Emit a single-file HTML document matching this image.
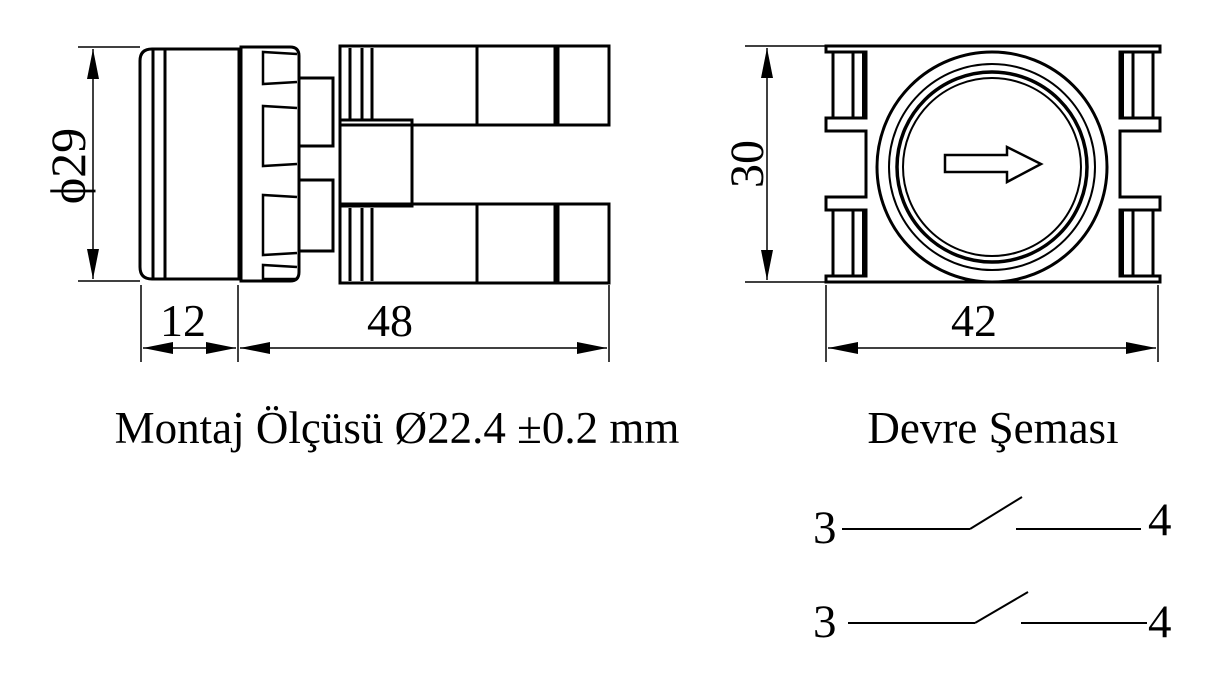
<!DOCTYPE html>
<html><head><meta charset="utf-8"><style>
html,body{margin:0;padding:0;background:#fff;}
svg{display:block;}
text{font-family:"Liberation Serif",serif;fill:#000;}
</style></head><body>
<svg width="1217" height="682" viewBox="0 0 1217 682" xmlns="http://www.w3.org/2000/svg">
<defs>
<marker id="a" viewBox="0 0 20 8" refX="20" refY="4" markerWidth="30" markerHeight="12" markerUnits="userSpaceOnUse" orient="auto-start-reverse"><path d="M0,0 L20,4 L0,8 z" fill="#000"/></marker>
</defs>
<g fill="none" stroke="#000" stroke-width="3">
<path d="M152,49 L239,49 L239,279 L152,279 Q140,279 140,267 L140,61 Q140,49 152,49 z"/>
<line x1="153" y1="50" x2="153" y2="278"/>
<line x1="165" y1="50" x2="165" y2="278"/>
<path d="M241,47 L290,47 Q299,47 299,56 L299,272 Q299,281 290,281 L241,281 z"/>
<g stroke-width="2.5">
<path d="M297,54 L263,52 L263,84 L297,82"/>
<path d="M297,108 L263,106 L263,166 L297,164"/>
<path d="M297,197 L263,195 L263,255 L297,253"/>
<path d="M297,267 L263,265 L263,279 L297,279"/>
</g>
<rect x="299" y="78" width="34" height="68"/>
<rect x="299" y="180" width="34" height="71"/>
<rect x="340" y="46" width="269" height="79"/>
<rect x="340" y="204" width="269" height="79"/>
<rect x="340" y="120" width="72" height="86"/>
<line x1="350" y1="48" x2="350" y2="120"/><line x1="362" y1="48" x2="362" y2="120"/><line x1="372" y1="48" x2="372" y2="120"/>
<line x1="350" y1="208" x2="350" y2="281"/><line x1="362" y1="208" x2="362" y2="281"/><line x1="372" y1="208" x2="372" y2="281"/>
<line x1="477" y1="46" x2="477" y2="125"/><line x1="555" y1="46" x2="555" y2="125"/><line x1="558" y1="46" x2="558" y2="125"/>
<line x1="477" y1="204" x2="477" y2="283"/><line x1="555" y1="204" x2="555" y2="283"/><line x1="558" y1="204" x2="558" y2="283"/>
<path d="M826,46 L1160,46 L1160,52 L1120,52 L1120,118 L1160,118 L1160,131 L1120,131 L1120,197 L1160,197 L1160,210 L1120,210 L1120,276 L1160,276 L1160,282 L826,282 L826,276 L866,276 L866,210 L826,210 L826,197 L866,197 L866,131 L826,131 L826,118 L866,118 L866,52 L826,52 z"/>
<line x1="833" y1="52" x2="833" y2="118"/><line x1="853" y1="52" x2="853" y2="118"/>
<line x1="833" y1="210" x2="833" y2="276"/><line x1="853" y1="210" x2="853" y2="276"/>
<line x1="1153" y1="52" x2="1153" y2="118"/><line x1="1133" y1="52" x2="1133" y2="118"/>
<line x1="1153" y1="210" x2="1153" y2="276"/><line x1="1133" y1="210" x2="1133" y2="276"/>
<rect x="862" y="52" width="5" height="66" fill="#000" stroke="none"/>
<rect x="862" y="210" width="5" height="66" fill="#000" stroke="none"/>
<rect x="1119" y="52" width="5" height="66" fill="#000" stroke="none"/>
<rect x="1119" y="210" width="5" height="66" fill="#000" stroke="none"/>
<circle cx="992" cy="167" r="115" fill="#fff"/>
<circle cx="992" cy="167" r="103" stroke-width="2"/>
<circle cx="992" cy="167" r="95" stroke-width="3.5"/>
<circle cx="992" cy="167" r="89" stroke-width="2"/>
<path d="M945,155 L1007,155 L1007,147 L1041,164 L1007,182 L1007,172 L945,172 z" stroke-width="2.5"/>
<g stroke-width="1.5">
<line x1="78" y1="47" x2="140" y2="47"/><line x1="78" y1="281" x2="140" y2="281"/>
<line x1="93" y1="49" x2="93" y2="279" marker-start="url(#a)" marker-end="url(#a)"/>
<line x1="745" y1="46" x2="826" y2="46"/><line x1="745" y1="282" x2="826" y2="282"/>
<line x1="767" y1="48" x2="767" y2="280" marker-start="url(#a)" marker-end="url(#a)"/>
<line x1="141" y1="285" x2="141" y2="362"/><line x1="238" y1="285" x2="238" y2="362"/><line x1="609" y1="285" x2="609" y2="362"/>
<line x1="143" y1="348" x2="236" y2="348" marker-start="url(#a)" marker-end="url(#a)"/>
<line x1="240" y1="348" x2="607" y2="348" marker-start="url(#a)" marker-end="url(#a)"/>
<line x1="826" y1="285" x2="826" y2="362"/><line x1="1158" y1="285" x2="1158" y2="362"/>
<line x1="828" y1="348" x2="1156" y2="348" marker-start="url(#a)" marker-end="url(#a)"/>
</g>
<g stroke-width="2">
<line x1="842" y1="529" x2="970" y2="529"/><line x1="970" y1="529" x2="1022" y2="497"/><line x1="1016" y1="529" x2="1141" y2="529"/>
<line x1="848" y1="623" x2="975" y2="623"/><line x1="975" y1="623" x2="1028" y2="592"/><line x1="1021" y1="623" x2="1147" y2="623"/>
</g>
</g>
<text x="85" y="166" font-size="50" text-anchor="middle" transform="rotate(-90 85 166)">ϕ29</text>
<text x="763" y="164" font-size="48" text-anchor="middle" transform="rotate(-90 763 164)">30</text>
<text x="183" y="336" font-size="46" text-anchor="middle">12</text>
<text x="390" y="336" font-size="46" text-anchor="middle">48</text>
<text x="974" y="336" font-size="46" text-anchor="middle">42</text>
<text x="397" y="443" font-size="45" text-anchor="middle">Montaj Ölçüsü Ø22.4 ±0.2 mm</text>
<text x="993" y="443" font-size="45" text-anchor="middle">Devre Şeması</text>
<text x="813" y="543" font-size="47">3</text>
<text x="1148" y="535" font-size="47">4</text>
<text x="813" y="637" font-size="47">3</text>
<text x="1148" y="637" font-size="47">4</text>
</svg>
</body></html>
